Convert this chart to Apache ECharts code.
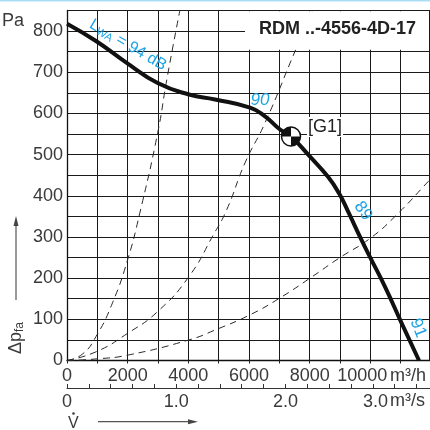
<!DOCTYPE html>
<html><head><meta charset="utf-8">
<script src="https://cdn.jsdelivr.net/npm/echarts@6/dist/echarts.min.js"></script>
<style>html,body{margin:0;padding:0;background:#fff}#c{width:430px;height:430px}</style>
</head><body><div id="c"></div>
<script>
// Fan characteristic (m³/h, Pa)
const fanFlow = [0, 955, 1967, 2990, 4022, 4880, 6034, 6528, 7023, 7385, 8012, 8605, 8968, 9265, 9660, 9990, 10485, 11012, 11605];
const fanPressure = [818, 776, 723, 674, 646, 634, 614, 593, 561, 544, 495, 446, 406, 362, 300, 251, 179, 94, 0];
// System curves (dashed)
const sys1Flow = [0, 500, 955, 1500, 2000, 2400, 2990, 3290, 3720];
const sys1Pressure = [0, 15, 58, 140, 245, 358, 553, 682, 850];
const sys2Flow = [0, 955, 2000, 2990, 4022, 4824, 5265, 5869, 6528, 7517, 8100];
const sys2Pressure = [0, 21, 66, 119, 204, 305, 366, 480, 577, 751, 850];
const sys3Flow = [0, 1000, 2000, 4022, 4880, 6034, 7000, 8012, 8978, 10000, 10870, 11912, 12000];
const sys3Pressure = [0, 4, 13, 50, 74, 111, 151, 200, 249, 297, 354, 435, 442];
// Operating point G1
const opPoint = [7385, 544];
// Tick labels
const xTickLabels = [0, 2000, 4000, 6000, 8000, 10000];
const x2TickLabels = [0, 1, 2, 3];
const yTickLabels = [0, 100, 200, 300, 400, 500, 600, 700, 800];

const FONT = '"Liberation Sans", Arial, sans-serif';
const TXT = '#3a3a3a';
const BLUE = '#1ba3e6';
const zip = (a, b) => a.map((v, i) => [v, b[i]]);

const chart = echarts.init(document.getElementById('c'), null, {renderer: 'canvas'});
const dashed = (fx, fy) => ({
  type: 'line', data: zip(fx, fy), showSymbol: false, symbol: 'none', smooth: 0.5,
  lineStyle: {color: '#2a2a2a', width: 1, type: [7, 5]}, z: 3, silent: true
});
const lblStyle = {fontSize: 18, color: TXT, fontFamily: FONT};
chart.setOption({
  animation: false,
  grid: {left: 67, top: 10.5, width: 364, height: 350, containLabel: false, outerBoundsMode: 'none'},
  xAxis: [{
    type: 'value', min: 0, max: 12000, interval: 1000, position: 'bottom',
    axisLine: {show: true, onZero: false, lineStyle: {color: '#111', width: 1.3}},
    axisTick: {show: true, length: 3, lineStyle: {color: '#222'}},
    splitLine: {show: true, lineStyle: {color: '#1a1a1a', width: 1}},
    axisLabel: {margin: 7, ...lblStyle,
      rich: {n: {...lblStyle}, s: {...lblStyle, padding: [0, 16, 0, 0]}},
      formatter: v => {
        if (!xTickLabels.includes(v)) return '';
        return v === xTickLabels[xTickLabels.length - 1] ? '{s|' + v + '}' : '{n|' + v + '}';
      }}
  }, {
    type: 'value', min: 0, max: 12000 / 3600, interval: 0.2, position: 'bottom', offset: 27.5,
    axisLine: {show: true, onZero: false, lineStyle: {color: '#333', width: 1}},
    axisTick: {show: true, inside: true, length: 4, lineStyle: {color: '#333'}},
    splitLine: {show: false},
    axisLabel: {margin: 5, ...lblStyle, showMaxLabel: false,
      rich: {n: {...lblStyle}, s: {...lblStyle, padding: [0, 38, 0, 0]}},
      formatter: v => {
        const r = Math.round(v);
        if (Math.abs(v - r) > 1e-6 || !x2TickLabels.includes(r)) return '';
        const t = r === 0 ? '0' : r.toFixed(1);
        return r === x2TickLabels[x2TickLabels.length - 1] ? '{s|' + t + '}' : '{n|' + t + '}';
      }}
  }],
  yAxis: {
    type: 'value', min: 0, max: 850, interval: 50,
    axisLine: {show: true, lineStyle: {color: '#111', width: 1.3}},
    axisTick: {show: false},
    splitLine: {show: true, lineStyle: {color: '#1a1a1a', width: 1}},
    axisLabel: {margin: 4, ...lblStyle,
      formatter: v => yTickLabels.includes(v) ? String(v) : ''}
  },
  series: [
    dashed(sys1Flow, sys1Pressure),
    dashed(sys2Flow, sys2Pressure),
    dashed(sys3Flow, sys3Pressure),
    {type: 'line', data: zip(fanFlow, fanPressure), showSymbol: false, symbol: 'none', smooth: 0.5,
      lineStyle: {color: '#111', width: 4}, z: 5, silent: true},
    {type: 'custom', coordinateSystem: 'cartesian2d', data: [opPoint], z: 20, clip: false,
      renderItem: (params, api) => {
        const p = api.coord([api.value(0), api.value(1)]);
        const r = 9.5;
        return {type: 'group', children: [
          {type: 'circle', shape: {cx: p[0], cy: p[1], r: r}, style: {fill: '#fff', stroke: '#111', lineWidth: 1.5}},
          {type: 'sector', shape: {cx: p[0], cy: p[1], r0: 0, r: r, startAngle: Math.PI, endAngle: Math.PI * 1.5, clockwise: true}, style: {fill: '#111'}},
          {type: 'sector', shape: {cx: p[0], cy: p[1], r0: 0, r: r, startAngle: 0, endAngle: Math.PI * 0.5, clockwise: true}, style: {fill: '#111'}}
        ]};
      }}
  ],
  graphic: {elements: [
    {type: 'rect', z: 50, shape: {x: 0, y: 0, width: 430, height: 1.5}, style: {fill: '#a9def5'}},
    {type: 'rect', z: 50, shape: {x: 245, y: 11.3, width: 185, height: 38.5}, style: {fill: '#fff'}},
    {type: 'line', z: 50, shape: {x1: 429.5, y1: 10.5, x2: 429.5, y2: 360.5}, style: {stroke: '#1a1a1a', lineWidth: 1}},
    {type: 'text', z: 60, x: 259, y: 29, style: {text: 'RDM ..-4556-4D-17', font: 'bold 18px ' + FONT, fill: '#222', verticalAlign: 'middle'}},
    {type: 'text', z: 60, x: 2, y: 21, style: {text: 'Pa', font: '18px ' + FONT, fill: TXT, verticalAlign: 'middle'}},
    {type: 'text', z: 60, x: 390, y: 376, style: {text: 'm³/h', font: '18px ' + FONT, fill: TXT, verticalAlign: 'middle'}},
    {type: 'text', z: 60, x: 390, y: 401.5, style: {text: 'm³/s', font: '18px ' + FONT, fill: TXT, verticalAlign: 'middle'}},
    {type: 'text', z: 60, x: 307, y: 127, style: {text: '[G1]', font: '18px ' + FONT, fill: '#222', verticalAlign: 'middle',
      backgroundColor: '#fff', padding: [1, 1, 1, 1]}},
    {type: 'text', z: 60, x: 128, y: 45, rotation: -0.53, style: {
      text: '{a|L}{b|WA}{a| = 94 dB}', align: 'center', verticalAlign: 'middle',
      rich: {a: {fontSize: 16, fontFamily: FONT, fill: BLUE, lineHeight: 18},
             b: {fontSize: 11, fontFamily: FONT, fill: BLUE, verticalAlign: 'bottom', lineHeight: 12}}}},
    {type: 'text', z: 60, x: 260, y: 100, style: {text: '90', font: 'italic 17px ' + FONT, fill: BLUE, align: 'center', verticalAlign: 'middle'}},
    {type: 'text', z: 60, x: 363, y: 211, rotation: -0.95, style: {text: '89', font: '17px ' + FONT, fill: BLUE, align: 'center', verticalAlign: 'middle'}},
    {type: 'text', z: 60, x: 418, y: 328, rotation: -1.2, style: {text: '91', font: '17px ' + FONT, fill: BLUE, align: 'center', verticalAlign: 'middle'}},
    // y-axis title
    {type: 'text', z: 60, x: 16, y: 338, rotation: Math.PI / 2, style: {
      text: '{a|Δp}{b|fa}', align: 'center', verticalAlign: 'middle',
      rich: {a: {fontSize: 18, fontFamily: FONT, fill: TXT, lineHeight: 20},
             b: {fontSize: 12, fontFamily: FONT, fill: TXT, verticalAlign: 'bottom', lineHeight: 13}}}},
    {type: 'line', z: 60, shape: {x1: 16, y1: 300, x2: 16, y2: 224}, style: {stroke: '#555', lineWidth: 1.2}},
    {type: 'polygon', z: 60, shape: {points: [[16, 216], [13.5, 226], [18.5, 226]]}, style: {fill: '#444'}},
    // x-axis title
    {type: 'text', z: 60, x: 68, y: 424, style: {text: 'V', font: '16px ' + FONT, fill: TXT, verticalAlign: 'middle'}},
    {type: 'circle', z: 60, shape: {cx: 73.5, cy: 413.5, r: 1.3}, style: {fill: TXT}},
    {type: 'line', z: 60, shape: {x1: 98, y1: 421.7, x2: 189, y2: 421.7}, style: {stroke: '#555', lineWidth: 1.2}},
    {type: 'polygon', z: 60, shape: {points: [[198, 421.7], [188, 419.2], [188, 424.2]]}, style: {fill: '#444'}}
  ]}
});
</script>
</body></html>
